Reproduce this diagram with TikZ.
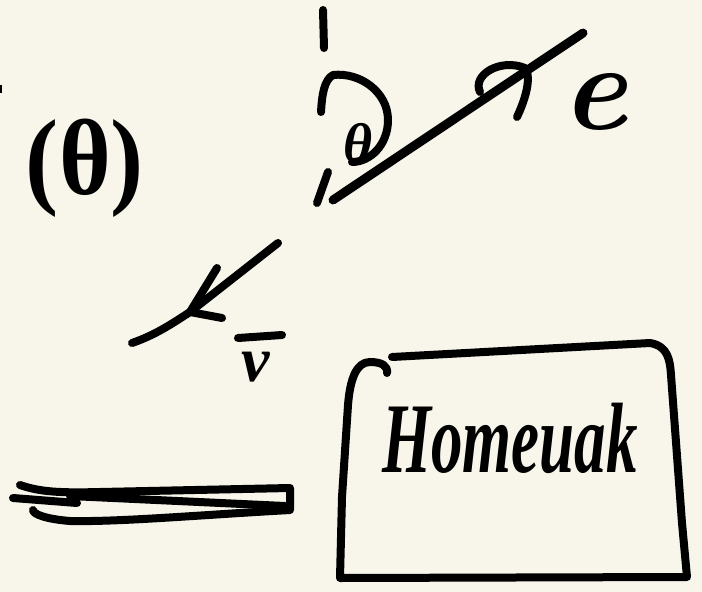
\documentclass[tikz,border=0pt]{standalone}
\usepackage{fontspec}
\newfontfamily\greekfont{Liberation Serif}
\definecolor{paper}{RGB}{248,246,235}
\tikzset{
  ink/.style={draw=black, line width=8pt, line cap=round, line join=round},
  hand/.style={inner sep=0pt, outer sep=0pt, text=black}
}
\begin{document}
\begin{tikzpicture}[x=1pt,y=-1pt]
\fill[paper] (0,0) rectangle (702,592);
\useasboundingbox (0,0) rectangle (702,592);

% tiny mark at left edge
\fill[black] (0,85) rectangle (1.5,93);

% vertical dashed axis
\coordinate (ax1) at (323,10);
\coordinate (ax2) at (324,48);
\draw[ink] (ax1) -- (ax2);
\coordinate (ax3) at (328,172);
\coordinate (ax4) at (317,203);
\draw[ink] (ax3) -- (ax4);
% angle arc (from axis round to the ray)
\coordinate (arcA) at (321,112);
\draw[ink] (arcA) .. controls (322,95) and (324,80) .. (333,75)
  .. controls (360,72) and (388,92) .. (388,120)
  .. controls (388,145) and (370,162) .. (352,162);
\node[hand, font=\greekfont\bfseries\itshape\fontsize{56}{56}\selectfont] (theta) at (358,143) {θ};

% ray to e
\coordinate (rayS) at (333,200);
\coordinate (rayE) at (583,33);
\draw[ink, line width=9pt] (rayS) -- (rayE);
\coordinate (headA) at (480,92);
\coordinate (headT) at (525,68);
\coordinate (headB) at (517,117);
\draw[ink] (headA) .. controls (472,75) and (500,58) .. (headT)
  .. controls (532,78) and (525,100) .. (headB);
\node[hand, font=\fontsize{124}{124}\bfseries\itshape\selectfont] (e) at (594,102) {e};

% (theta) label
\node[hand, font=\greekfont\bfseries\fontsize{108}{108}\selectfont, xscale=0.92] (obs) at (85,168) {(θ)};

% v arrow
\coordinate (vS) at (278,243);
\coordinate (vE) at (132,343);
\coordinate (vT) at (190,312);
\draw[ink] (vS) -- (vT) .. controls (170,325) and (155,335) .. (vE);
\draw[ink] (217,268) -- (vT) -- (222,318);
\node[hand, font=\greekfont\bfseries\itshape\fontsize{64}{64}\selectfont] (v) at (256,367) {v};
\draw[ink] (238,338) -- (282,335);

% plate
\coordinate (pl1) at (20,485);
\coordinate (pr1) at (290,488);
\coordinate (pr2) at (290,510);
\draw[ink] (pl1) .. controls (40,492) and (60,493) .. (100,492) -- (pr1) -- (pr2)
  .. controls (200,515) and (120,522) .. (70,521) .. controls (45,519) and (33,514) .. (33,510);
\draw[ink] (13,498) -- (77,503);
\draw[ink] (70,496) -- (285,506);

% box
\coordinate (bTL) at (392,357);
\coordinate (bTR) at (650,343);
\coordinate (bBR) at (687,577);
\coordinate (bBL) at (340,578);
\draw[ink] (bTL) -- (bTR) .. controls (668,346) and (670,360) .. (671,375)
  -- (682,523) -- (bBR) -- (bBL) -- (342,497) -- (348,405)
  .. controls (350,380) and (356,362) .. (370,362) .. controls (382,362) and (388,366) .. (387,373);
\node[hand, font=\greekfont\fontsize{100}{100}\bfseries\itshape\selectfont, xscale=0.63] (label) at (510,438) {Homeuak};
\end{tikzpicture}
\end{document}
